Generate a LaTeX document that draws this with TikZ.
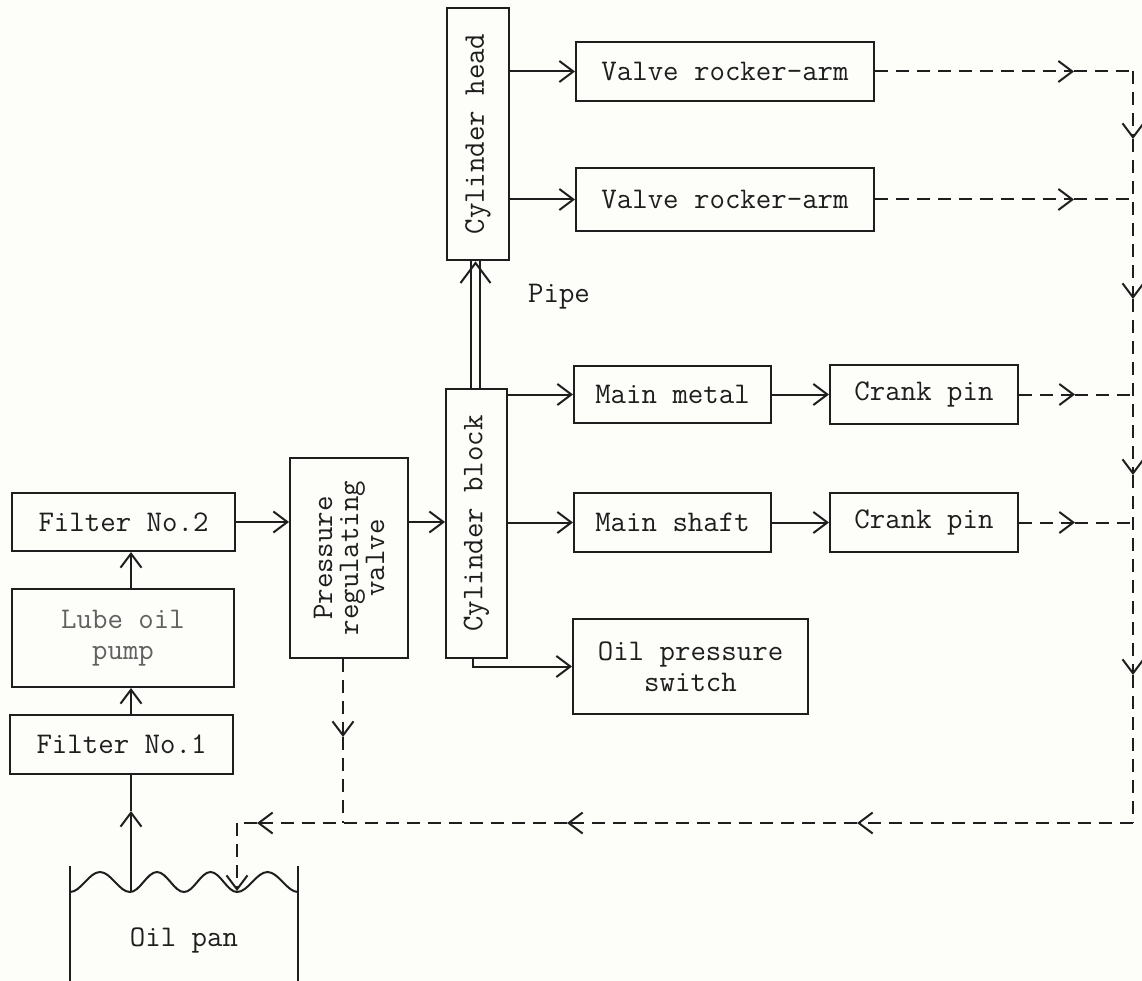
\documentclass[tikz,border=0pt]{standalone}
\usepackage{fontspec}
\usetikzlibrary{arrows.meta}
\definecolor{ink}{RGB}{30,30,30}
\definecolor{paper}{RGB}{253,253,250}
\newcommand{\twfont}{\ttfamily\addfontfeatures{FakeBold=1.2}}
\begin{document}
\begin{tikzpicture}[x=1pt,y=-1pt,
  >={Straight Barb[length=14pt,width=21pt]},
  box/.style={draw=ink, line width=2pt, rectangle, inner sep=0pt},
  txt/.style={font=\twfont\fontsize{30}{31}\selectfont, text=ink, align=center, inner sep=0pt},
  ln/.style={draw=ink, line width=2pt},
  flow/.style={ln, ->},
  ret/.style={ln, dash pattern=on 13pt off 8pt}
]
\fill[paper] (0,0) rectangle (1142,981);
\useasboundingbox (0,0) rectangle (1142,981);

% boxes
\node[box, minimum width=223, minimum height=58] (f2) at (123.5,522) {};
\node[txt] (f2t) at (f2) {Filter No.2};
\node[box, minimum width=222, minimum height=98] (pump) at (123,638) {};
\node[txt, text=ink!70, font=\ttfamily\fontsize{30}{31}\selectfont] (pumpt) at (pump) {Lube oil\\pump};
\node[box, minimum width=223, minimum height=59] (f1) at (121.5,744.5) {};
\node[txt] (f1t) at (f1) {Filter No.1};
\node[box, minimum width=118, minimum height=200] (prv) at (349,558) {};
\node[txt, rotate=90, font=\twfont\fontsize{30}{26}\selectfont] (prvt) at (prv) {Pressure\\regulating\\valve};
\node[box, minimum width=61, minimum height=269] (block) at (476.5,523.5) {};
\node[txt, rotate=90] (blockt) at (block) {Cylinder block};
\node[box, minimum width=62, minimum height=252] (head) at (478,134) {};
\node[txt, rotate=90] (headt) at (head) {Cylinder head};
\node[box, minimum width=298, minimum height=59] (vr1) at (725,71.5) {};
\node[txt] (vr1t) at (vr1) {Valve rocker-arm};
\node[box, minimum width=298, minimum height=63] (vr2) at (725,199.5) {};
\node[txt] (vr2t) at (vr2) {Valve rocker-arm};
\node[box, minimum width=197, minimum height=57] (mm) at (672.5,394.5) {};
\node[txt] (mmt) at (mm) {Main metal};
\node[box, minimum width=197, minimum height=59] (ms) at (672.5,522.5) {};
\node[txt] (mst) at (ms) {Main shaft};
\node[box, minimum width=235, minimum height=95] (ops) at (690.5,666.5) {};
\node[txt] (opst) at (ops) {Oil pressure\\switch};
\node[box, minimum width=188, minimum height=59] (cp1) at (924,394.5) {};
\node[txt] (cp1t) at (cp1) {Crank pin};
\node[box, minimum width=188, minimum height=59] (cp2) at (924,522.5) {};
\node[txt] (cp2t) at (cp2) {Crank pin};
\node[txt] (pipe) at (559,297) {Pipe};
\node[txt] (pant) at (184,940) {Oil pan};

% oil pan
\draw[ln] (70,866) -- (70,981);
\draw[ln] (298,866) -- (298,981);
\draw[ln] (70,892) cos (85,882) sin (100,872) cos (115,882) sin (130,892)
  cos (143.5,882) sin (157,872) cos (170.5,882) sin (184,892)
  cos (197.25,882) sin (210.5,872) cos (223.75,882) sin (237,892)
  cos (252.25,882) sin (267.5,872) cos (282.75,882) sin (298,892);

% solid flow
\coordinate (p1) at (131,891);
\coordinate (u1) at (131,811);
\draw[flow] (p1) -- (u1);
\draw[ln] (u1) -- (f1.south -| p1);
\draw[flow] (f1.north -| p1) -- (pump.south -| p1);
\draw[flow] (pump.north -| p1) -- (f2.south -| p1);
\draw[flow] (f2.east) -- (prv.west |- f2.east);
\draw[flow] (prv.east |- f2.east) -- (block.west |- f2.east);
\draw[flow] (block.east |- mm.west) -- (mm.west);
\draw[flow] (block.east |- ms.west) -- (ms.west);
\draw[flow] ([xshift=-3.5pt]block.south) |- (ops.west);
\draw[flow] (mm.east) -- (cp1.west);
\draw[flow] (ms.east) -- (cp2.west);
\draw[flow] (head.east |- vr1.west) -- (vr1.west);
\draw[flow] (head.east |- vr2.west) -- (vr2.west);
% pipe
\draw[ln] ([xshift=-5.5pt]block.north) -- ([xshift=-5.5pt]block.north |- head.south);
\draw[ln] ([xshift=3.5pt]block.north) -- ([xshift=3.5pt]block.north |- head.south);
\coordinate (pt) at ([xshift=-1pt]block.north |- head.south);
\draw[ln] ([shift={(-15,22)}]pt) -- ([shift={(0,2)}]pt) -- ([shift={(15,22)}]pt);

% return lines
\coordinate (a1) at (1074,71.5);  \coordinate (c1) at (1133,71.5);
\coordinate (a2) at (1074,199.5); \coordinate (c2) at (1133,199.5);
\coordinate (a3) at (1075,394.5); \coordinate (c3) at (1133,394.5);
\coordinate (a4) at (1075,522.5); \coordinate (c4) at (1133,522.5);
\draw[ret,->] (vr1.east) -- (a1); \draw[ret] (a1) -- (c1);
\draw[ret,->] (vr2.east) -- (a2); \draw[ret] (a2) -- (c2);
\draw[ret,->] (cp1.east) -- (a3); \draw[ret] (a3) -- (c3);
\draw[ret,->] (cp2.east) -- (a4); \draw[ret] (a4) -- (c4);
\coordinate (v1) at (1133,139);
\coordinate (v2) at (1133,299);
\coordinate (v3) at (1133,475);
\coordinate (v4) at (1133,675);
\coordinate (c5) at (1133,823);
\draw[ret,->] (c1) -- (v1);
\draw[ret,->] (v1) -- (v2);
\draw[ret,->] (v2) -- (v3);
\draw[ret,->] (v3) -- (v4);
\draw[ret] (v4) -- (c5);
\coordinate (h1) at (857,823);
\coordinate (h2) at (567,823);
\coordinate (h3) at (257,823);
\coordinate (c6) at (237,823);
\coordinate (p2) at (237,891);
\draw[ret,->] (c5) -- (h1);
\draw[ret,->] (h1) -- (h2);
\draw[ret,->] (h2) -- (h3);
\draw[ret] (h3) -- (c6);
\draw[ret,->] (c6) -- (p2);
\coordinate (d0) at ([xshift=-6pt]prv.south);
\coordinate (d1) at (343,737);
\coordinate (d2) at (343,823);
\draw[ret,->] (d0) -- (d1);
\draw[ret] (d1) -- (d2);
\end{tikzpicture}
\end{document}
